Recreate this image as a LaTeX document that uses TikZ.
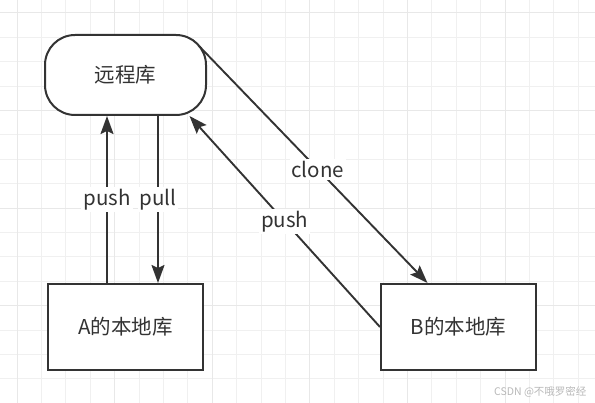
\documentclass[tikz,border=0pt]{standalone}
\usepackage{fontspec}
\newfontfamily\cjk{Noto Sans CJK SC}
\usetikzlibrary{positioning,arrows.meta}

\definecolor{inkgray}{HTML}{333333}
\definecolor{gridminor}{HTML}{F0F0F0}
\definecolor{gridmajor}{HTML}{E8E8E8}

\begin{document}
\begin{tikzpicture}[x=1pt,y=1pt,>={Stealth[length=18pt,width=13pt,inset=3pt]},
   node distance=167pt and 176pt,
   every node/.style={font=\cjk\fontsize{20.5}{23}\selectfont,text=inkgray},
   repo/.style={draw=inkgray,line width=2pt,fill=white},
   flow/.style={->,draw=inkgray,line width=1.9pt},
   edge label/.style={fill=white,inner sep=2pt}]
  \useasboundingbox (0,0) rectangle (595,-403);
  % grid
  \foreach \i in {0,...,23}
    \draw[gridminor,line width=1pt] ({17+24.4*\i},0) -- ++(0,-403);
  \foreach \j in {0,...,15}
    \draw[gridminor,line width=1pt] (0,{-13-24.4*\j}) -- ++(595,0);
  \foreach \i in {0,...,5}
    \draw[gridmajor,line width=1pt] ({17+97.6*\i},0) -- ++(0,-403);
  \foreach \j in {0,...,3}
    \draw[gridmajor,line width=1pt] (0,{-13-97.6*\j}) -- ++(595,0);

  \node (remote) [repo,rounded corners=30pt,minimum width=161pt,minimum height=80pt] at (125.5,-75) {远程库};
  \node (localA) [repo,minimum width=155pt,minimum height=86pt,below=of remote] {A的本地库};
  \node (localB) [repo,minimum width=155pt,minimum height=86pt,right=of localA] {B的本地库};

  \draw[flow] ([xshift=-18.5pt]localA.north) -- node[edge label]{push} ([xshift=-18.5pt]remote.south);
  \draw[flow] ([xshift=32.5pt]remote.south) -- node[edge label]{pull} ([xshift=32.5pt]localA.north);
  \draw[flow] ([shift={(-8pt,-12pt)}]remote.north east) -- node[edge label,pos=.52]{clone} ([xshift=-31pt]localB.north);
  \draw[flow] (localB.west) -- node[edge label]{push} ([xshift=64pt]remote.south);

  \node (mark) [font=\cjk\fontsize{10.5}{12}\selectfont,text=black!28,anchor=east] at (590,-392) {CSDN @不哦罗密经};
\end{tikzpicture}
\end{document}
